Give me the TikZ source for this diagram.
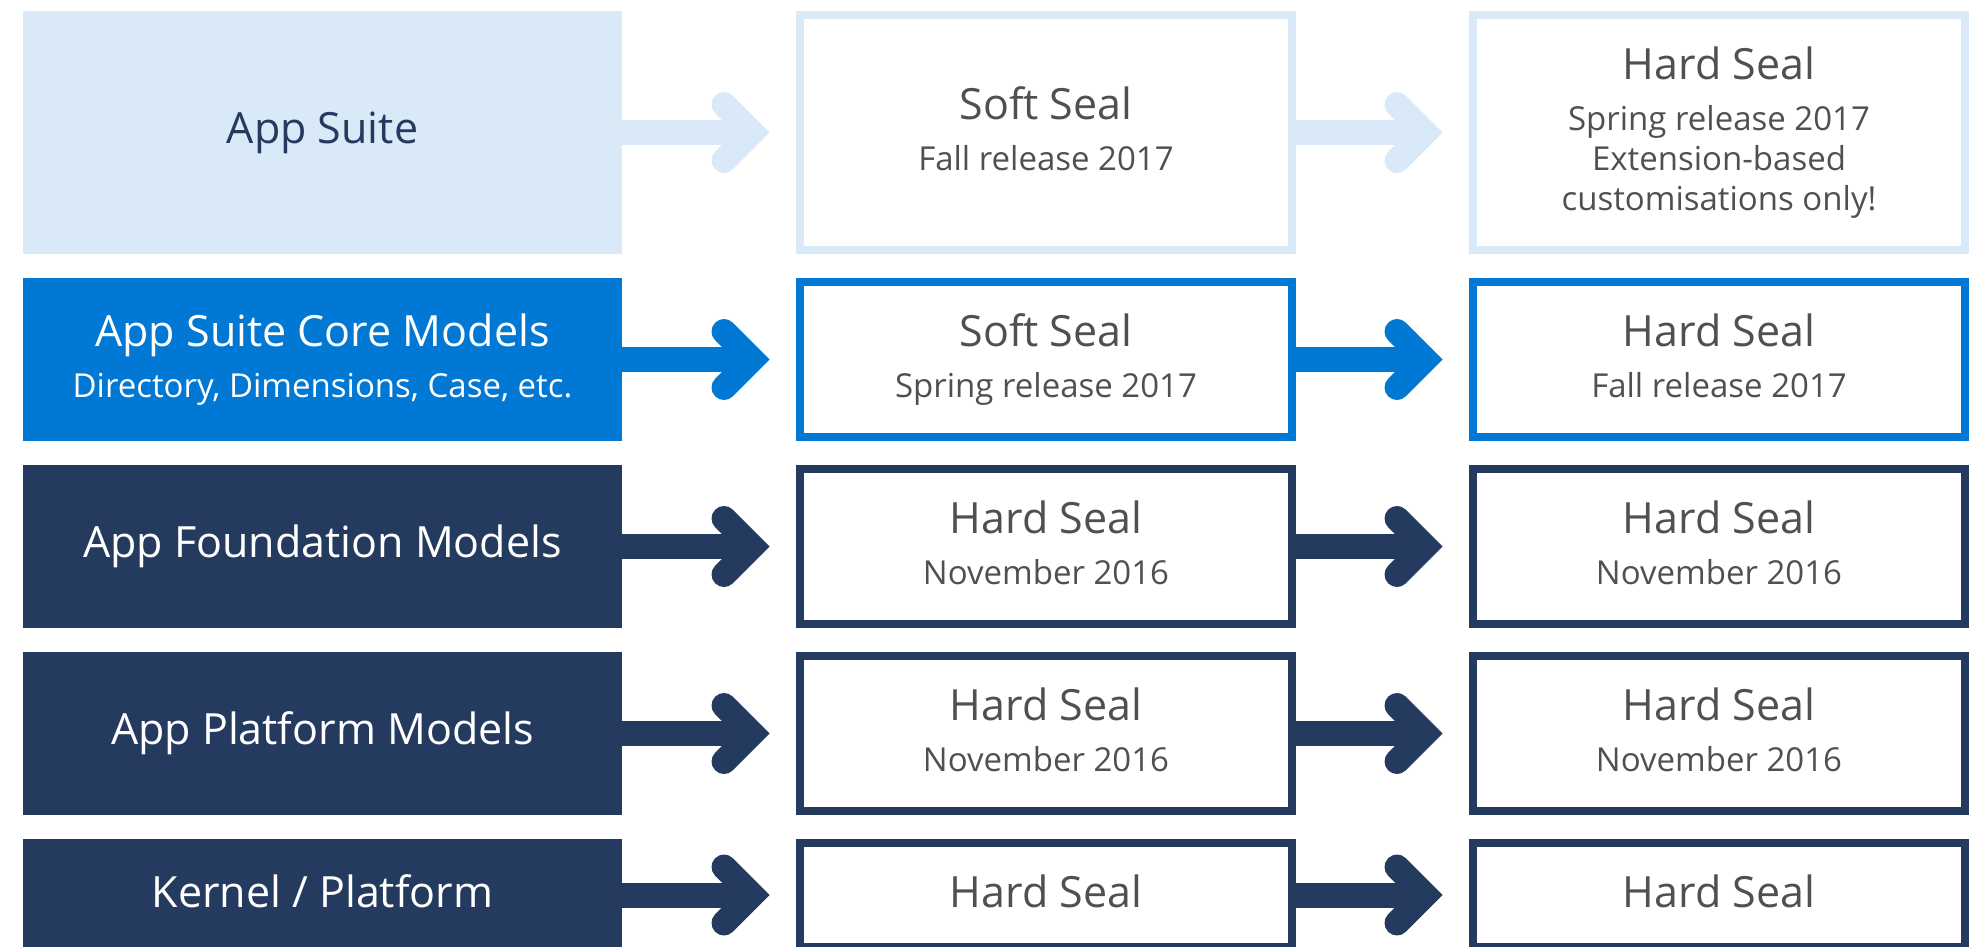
\documentclass[tikz,border=0pt]{standalone}
\usepackage{fontspec}
\setmainfont{Open Sans}
\definecolor{sealpale}{HTML}{DAE9F7}
\definecolor{sealblue}{HTML}{0078D4}
\definecolor{sealnavy}{HTML}{243A5E}
\definecolor{sealtext}{HTML}{505050}
\newcommand{\titlef}{\fontsize{43}{50}\selectfont}
\newcommand{\subf}{\fontsize{33}{40}\selectfont}
\tikzset{
  layer/.style={inner sep=0pt, outer sep=0pt, minimum width=599pt, text=white, align=center, font=\subf},
  seal/.style={draw=#1, line width=8pt, fill=white, inner sep=0pt, minimum width=492pt, text=sealtext, text depth=8pt, align=center, font=\subf},
  shaft/.style={draw=#1, line width=25pt},
  chevron/.style={draw=#1, line width=25pt, line cap=round, line join=miter},
}
% thick arrow with a rounded chevron head, from one box to the next
\newcommand{\sealarrow}[3]{%
  \draw[shaft=#3] (#1.east) -- ([xshift=-44pt]#2.west);
  \draw[chevron=#3] ([xshift=-72pt,yshift=28pt]#2.west) -- ([xshift=-44pt]#2.west) -- ([xshift=-72pt,yshift=-28pt]#2.west);}
\begin{document}
\begin{tikzpicture}[x=1pt,y=-1pt]
\useasboundingbox (0,0) rectangle (1973,947);
\clip (0,0) rectangle (1973,947);
% layers
\node[layer, fill=sealpale, text=sealnavy, font=\titlef, minimum height=243pt] (l1) at (322.5,132.5) {App Suite};
\node[layer, fill=sealblue, minimum height=163pt] (l2) at (322.5,359.5) {{\titlef App Suite Core Models}\\[11pt]Directory, Dimensions, Case, etc.};
\node[layer, fill=sealnavy, font=\titlef, minimum height=163pt] (l3) at (322.5,546.5) {App Foundation Models};
\node[layer, fill=sealnavy, font=\titlef, minimum height=163pt] (l4) at (322.5,733.5) {App Platform Models};
\node[layer, fill=sealnavy, font=\titlef, text depth=8pt, minimum height=112pt] (l5) at (322.5,895) {Kernel / Platform};
% first step
\node[seal=sealpale, minimum height=235pt] (m1) at (1046,132.5) {{\titlef Soft Seal}\\[11pt]Fall release 2017};
\node[seal=sealblue, minimum height=155pt] (m2) at (1046,359.5) {{\titlef Soft Seal}\\[11pt]Spring release 2017};
\node[seal=sealnavy, minimum height=155pt] (m3) at (1046,546.5) {{\titlef Hard Seal}\\[11pt]November 2016};
\node[seal=sealnavy, minimum height=155pt] (m4) at (1046,733.5) {{\titlef Hard Seal}\\[11pt]November 2016};
\node[seal=sealnavy, font=\titlef, minimum height=104pt] (m5) at (1046,895) {Hard Seal};
% second step
\node[seal=sealpale, minimum height=235pt] (r1) at (1719,132.5) {{\titlef Hard Seal}\\[11pt]Spring release 2017\\Extension-based\\customisations only!};
\node[seal=sealblue, minimum height=155pt] (r2) at (1719,359.5) {{\titlef Hard Seal}\\[11pt]Fall release 2017};
\node[seal=sealnavy, minimum height=155pt] (r3) at (1719,546.5) {{\titlef Hard Seal}\\[11pt]November 2016};
\node[seal=sealnavy, minimum height=155pt] (r4) at (1719,733.5) {{\titlef Hard Seal}\\[11pt]November 2016};
\node[seal=sealnavy, font=\titlef, minimum height=104pt] (r5) at (1719,895) {Hard Seal};
% arrows
\sealarrow{l1}{m1}{sealpale}
\sealarrow{m1}{r1}{sealpale}
\sealarrow{l2}{m2}{sealblue}
\sealarrow{m2}{r2}{sealblue}
\sealarrow{l3}{m3}{sealnavy}
\sealarrow{m3}{r3}{sealnavy}
\sealarrow{l4}{m4}{sealnavy}
\sealarrow{m4}{r4}{sealnavy}
\sealarrow{l5}{m5}{sealnavy}
\sealarrow{m5}{r5}{sealnavy}
\end{tikzpicture}
\end{document}
